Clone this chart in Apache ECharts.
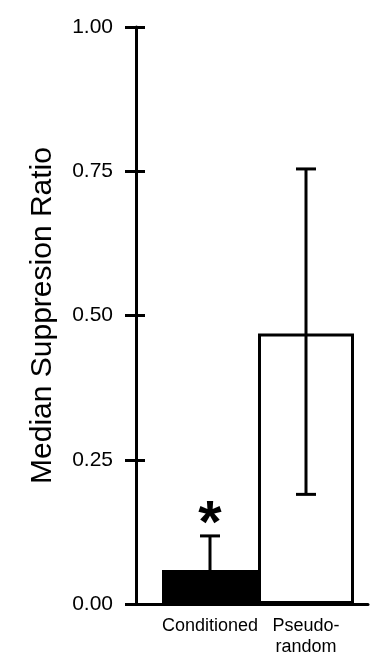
<!DOCTYPE html>
<html>
<head>
<meta charset="utf-8">
<script src="https://cdn.jsdelivr.net/npm/echarts@6/dist/echarts.min.js"></script>
<style>
  html, body { margin: 0; padding: 0; background: #fff; }
  #chart { width: 370px; height: 654px; }
</style>
</head>
<body>
<div id="chart"></div>
<script>
// data
var categories = ['Conditioned', 'Pseudo-\nrandom'];
var medians = [0.059, 0.469];
var errLow = [0.0, 0.19];
var errHigh = [0.118, 0.754];
var marks = ['*', ''];
var yTicks = [0, 0.25, 0.5, 0.75, 1];

var FONT = "'Liberation Sans', Arial, sans-serif";
var myChart = echarts.init(document.getElementById('chart'), null, { renderer: 'canvas' });

var barData = medians.map(function (v, i) {
  return {
    value: v,
    itemStyle: {
      color: i === 0 ? '#000' : '#fff',
      borderColor: '#000',
      borderWidth: 3
    }
  };
});
var errData = categories.map(function (c, i) {
  return [i, errLow[i], errHigh[i]];
});

var yMin = yTicks[0], yMax = yTicks[yTicks.length - 1], yStep = yTicks[1] - yTicks[0];

var option = {
  animation: false,
  backgroundColor: '#fff',
  grid: [
    // frame grid: axes lines and ticks
    { left: 136, right: 2, top: 27, bottom: 50, outerBoundsMode: 'none', containLabel: false },
    // bars grid
    { left: 162, right: 16, top: 27, bottom: 50, outerBoundsMode: 'none', containLabel: false }
  ],
  xAxis: [
    {
      gridIndex: 0, type: 'value', min: 0, max: 1,
      axisLine: { show: true, lineStyle: { color: '#000', width: 3 } },
      axisTick: { show: false }, axisLabel: { show: false }, splitLine: { show: false }
    },
    {
      gridIndex: 1, type: 'category', data: categories,
      axisLine: { show: false }, axisTick: { show: false }, splitLine: { show: false },
      axisLabel: {
        color: '#000', fontFamily: FONT, fontSize: 18, lineHeight: 21, margin: 12,
        interval: 0
      }
    }
  ],
  yAxis: [
    {
      gridIndex: 0, type: 'value', min: yMin, max: yMax, interval: yStep,
      name: 'Median Suppresion Ratio', nameLocation: 'middle', nameGap: 78,
      nameTextStyle: { color: '#000', fontFamily: FONT, fontSize: 30 },
      axisLine: { show: true, lineStyle: { color: '#000', width: 3 } },
      axisTick: { show: true, inside: false, length: 11, lineStyle: { color: '#000', width: 3 } },
      axisLabel: {
        color: '#000', fontFamily: FONT, fontSize: 21, margin: 23,
        formatter: function (v) { return v.toFixed(2); }
      },
      splitLine: { show: false }
    },
    {
      // inner half of the crossing ticks
      gridIndex: 0, type: 'value', position: 'left', min: yMin, max: yMax, interval: yStep,
      axisLine: { show: false },
      axisTick: { show: true, inside: true, length: 9, lineStyle: { color: '#000', width: 3 } },
      axisLabel: { show: false }, splitLine: { show: false }
    },
    {
      gridIndex: 1, type: 'value', min: yMin, max: yMax,
      show: false, splitLine: { show: false }
    }
  ],
  series: [
    {
      type: 'bar', xAxisIndex: 1, yAxisIndex: 2,
      barWidth: '100%', data: barData, z: 2
    },
    {
      type: 'custom', xAxisIndex: 1, yAxisIndex: 2, z: 3,
      data: errData,
      renderItem: function (params, api) {
        var i = api.value(0);
        var lo = api.coord([i, api.value(1)]);
        var hi = api.coord([i, api.value(2)]);
        var half = 10;
        var st = { stroke: '#000', lineWidth: 3 };
        var children = [
          { type: 'line', shape: { x1: lo[0], y1: lo[1], x2: hi[0], y2: hi[1] }, style: st },
          { type: 'line', shape: { x1: hi[0] - half, y1: hi[1], x2: hi[0] + half, y2: hi[1] }, style: st },
          { type: 'line', shape: { x1: lo[0] - half, y1: lo[1], x2: lo[0] + half, y2: lo[1] }, style: st }
        ];
        var mk = marks[params.dataIndex];
        if (mk) {
          children.push({
            type: 'text',
            style: {
              text: mk, x: hi[0], y: hi[1] - 10,
              align: 'center', verticalAlign: 'middle',
              fill: '#000', font: 'bold 60px ' + FONT
            }
          });
        }
        return { type: 'group', children: children };
      }
    }
  ]
};

myChart.setOption(option);
</script>
</body>
</html>
